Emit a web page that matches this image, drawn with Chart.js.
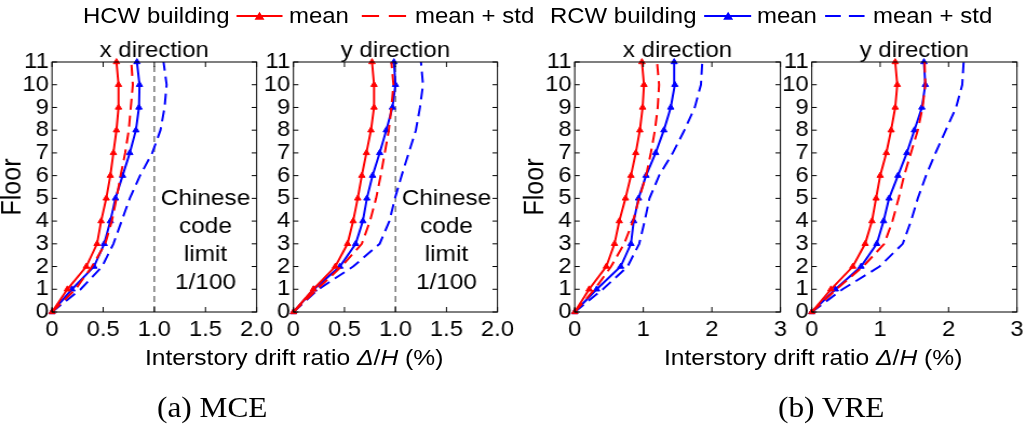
<!DOCTYPE html>
<html>
<head>
<meta charset="utf-8">
<script src="https://cdn.jsdelivr.net/npm/chart.js@4.4.1/dist/chart.umd.min.js"></script>
<style>
  html, body { margin: 0; padding: 0; background: #fff; overflow: hidden; width: 1023px; height: 424px; }
  #fig { position: absolute; left: 0; top: 0; height: 424px; transform-origin: 0 0;
         font-family: "Liberation Sans", Arial, sans-serif; color: #000; }
  #fig canvas { position: absolute; top: 0; }
  .t { position: absolute; white-space: nowrap; }
  .cap { font-family: "Liberation Serif", "Times New Roman", serif; }
  svg { position: absolute; overflow: visible; }
</style>
</head>
<body>
<div id="fig"></div>
<script>
// ── Data ──────────────────────────────────────────────────────────────────────
// floor index 0..11, interstory drift ratio in %
const floors = [0, 1, 2, 3, 4, 5, 6, 7, 8, 9, 10, 11];

// (a) MCE, x direction
const hcwMeanMceX = [0, 0.15, 0.335, 0.44, 0.48, 0.53, 0.57, 0.60, 0.63, 0.65, 0.65, 0.63];
const hcwStdMceX  = [0, 0.23, 0.39, 0.52, 0.585, 0.63, 0.67, 0.715, 0.75, 0.77, 0.79, 0.775];
const rcwMeanMceX = [0, 0.195, 0.41, 0.51, 0.57, 0.62, 0.69, 0.76, 0.82, 0.85, 0.855, 0.83];
const rcwStdMceX  = [0, 0.28, 0.49, 0.60, 0.68, 0.76, 0.86, 0.98, 1.06, 1.10, 1.12, 1.09];

// (a) MCE, y direction
const hcwMeanMceY = [0, 0.195, 0.41, 0.53, 0.585, 0.63, 0.67, 0.715, 0.76, 0.79, 0.79, 0.77];
const hcwStdMceY  = [0, 0.23, 0.47, 0.67, 0.75, 0.81, 0.855, 0.895, 0.935, 0.96, 0.98, 0.96];
const rcwMeanMceY = [0, 0.20, 0.455, 0.61, 0.68, 0.72, 0.775, 0.845, 0.91, 0.97, 1.0, 0.985];
const rcwStdMceY  = [0, 0.245, 0.585, 0.845, 0.94, 0.995, 1.06, 1.13, 1.20, 1.24, 1.27, 1.25];

// (b) VRE, x direction
const hcwMeanVreX = [0, 0.21, 0.46, 0.58, 0.65, 0.74, 0.82, 0.89, 0.95, 0.99, 1.01, 0.98];
const hcwStdVreX  = [0, 0.29, 0.53, 0.72, 0.85, 0.94, 1.04, 1.11, 1.17, 1.21, 1.23, 1.20];
const rcwMeanVreX = [0, 0.32, 0.67, 0.82, 0.86, 0.93, 1.04, 1.18, 1.30, 1.40, 1.46, 1.45];
const rcwStdVreX  = [0, 0.41, 0.77, 0.94, 1.02, 1.09, 1.23, 1.43, 1.60, 1.75, 1.84, 1.86];

// (b) VRE, y direction
const hcwMeanVreY = [0, 0.28, 0.60, 0.78, 0.88, 0.94, 1.0, 1.09, 1.16, 1.22, 1.25, 1.22];
const hcwStdVreY  = [0, 0.36, 0.75, 1.06, 1.18, 1.27, 1.35, 1.45, 1.55, 1.62, 1.66, 1.65];
const rcwMeanVreY = [0, 0.345, 0.72, 0.95, 1.05, 1.13, 1.26, 1.39, 1.50, 1.61, 1.66, 1.64];
const rcwStdVreY  = [0, 0.45, 0.99, 1.33, 1.45, 1.55, 1.67, 1.81, 1.96, 2.11, 2.20, 2.22];

const codeLimit  = 1.0;   // Chinese code limit 1/100
const limitText  = ['Chinese', 'code', 'limit', '1/100'];

// ── Layout ────────────────────────────────────────────────────────────────────
const S         = 1.08;   // the figure is stretched horizontally a little
const CANVAS_H  = 345;
const FONT      = '"Liberation Sans", Arial, sans-serif';
const RED       = '#ff0000';
const BLUE      = '#0000ff';
const TICK_PX   = 22;
const TITLE_PX  = 22.2;
const LEGEND_PX = 22.2;
const AXIS_PX   = 22.8;
const NOTE_PX   = 22.6;

const fig = document.getElementById('fig');
fig.style.width = (1023 / S) + 'px';
fig.style.transform = `scaleX(${S})`;

// ── Helpers ───────────────────────────────────────────────────────────────────
function addText(html, xRef, yCenter, size, cls = '') {
  const el = document.createElement('div');
  el.className = 't ' + cls;
  el.innerHTML = html;
  el.style.left = (xRef / S) + 'px';
  el.style.fontSize = size + 'px';
  el.style.lineHeight = (size * 1.2) + 'px';
  el.style.top = (yCenter - size * 0.6) + 'px';
  fig.appendChild(el);
}

function addSample(x1, x2, yCenter, color, dashed, markX) {
  const w = (x2 - x1) / S;
  const ns = 'http://www.w3.org/2000/svg';
  const svg = document.createElementNS(ns, 'svg');
  svg.setAttribute('width', w);
  svg.setAttribute('height', 12);
  svg.style.left = (x1 / S) + 'px';
  svg.style.top = (yCenter - 6) + 'px';
  const line = document.createElementNS(ns, 'line');
  line.setAttribute('x1', 0); line.setAttribute('x2', w);
  line.setAttribute('y1', 6); line.setAttribute('y2', 6);
  line.setAttribute('stroke', color);
  line.setAttribute('stroke-width', 2);
  if (dashed) line.setAttribute('stroke-dasharray', dashed);
  svg.appendChild(line);
  if (markX) {
    const cx = (markX - x1) / S;
    const tri = document.createElementNS(ns, 'polygon');
    tri.setAttribute('points', `${cx - 4.6},9.8 ${cx + 4.6},9.8 ${cx},1.8`);
    tri.setAttribute('fill', color);
    svg.appendChild(tri);
  }
  fig.appendChild(svg);
}

function series(xs, color, dashed) {
  return {
    data: xs.map((x, i) => ({ x, y: floors[i] })),
    borderColor: color,
    backgroundColor: color,
    borderWidth: 2,
    borderDash: dashed ? [11, 6] : [],
    pointStyle: 'triangle',
    pointRadius: dashed ? 0 : 3.4,
    pointBorderWidth: 1,
    tension: 0,
    clip: 6,
  };
}

// frame, inward ticks and the code-limit note
const framePlugin = {
  id: 'frame',
  afterDraw(chart, args, opts) {
    const { ctx, chartArea: a, scales: { x, y } } = chart;
    ctx.save();
    ctx.strokeStyle = '#000';
    ctx.lineWidth = 1;
    ctx.strokeRect(a.left, a.top, a.right - a.left, a.bottom - a.top);
    const tx = 5 / S, ty = 5;
    ctx.beginPath();
    y.ticks.forEach(t => {
      const py = y.getPixelForValue(t.value);
      ctx.moveTo(a.left, py);  ctx.lineTo(a.left + tx, py);
      ctx.moveTo(a.right, py); ctx.lineTo(a.right - tx, py);
    });
    x.ticks.forEach(t => {
      const px = x.getPixelForValue(t.value);
      ctx.moveTo(px, a.bottom); ctx.lineTo(px, a.bottom - ty);
      ctx.moveTo(px, a.top);    ctx.lineTo(px, a.top + ty);
    });
    ctx.stroke();

    if (opts.limit) {
      ctx.fillStyle = '#000';
      ctx.font = `${NOTE_PX}px ${FONT}`;
      ctx.textAlign = 'center';
      ctx.textBaseline = 'alphabetic';
      const px = x.getPixelForValue(1.5);
      const py = y.getPixelForValue(4.72);
      limitText.forEach((s, i) => ctx.fillText(s, px, py + i * 28));
    }
    ctx.restore();
  },
};

// ── Panels ────────────────────────────────────────────────────────────────────
const panels = [
  { left: 0,   plotL: 52,  plotR: 257,  title: 'x direction', xMax: 2, step: 0.5, floor: true,  limit: true,
    data: [hcwMeanMceX, hcwStdMceX, rcwMeanMceX, rcwStdMceX] },
  { left: 262, plotL: 293, plotR: 498,  title: 'y direction', xMax: 2, step: 0.5, floor: false, limit: true,
    data: [hcwMeanMceY, hcwStdMceY, rcwMeanMceY, rcwStdMceY] },
  { left: 523, plotL: 575, plotR: 781,  title: 'x direction', xMax: 3, step: 1,   floor: true,  limit: false,
    data: [hcwMeanVreX, hcwStdVreX, rcwMeanVreX, rcwStdVreX] },
  { left: 780, plotL: 812, plotR: 1018, title: 'y direction', xMax: 3, step: 1,   floor: false, limit: false,
    data: [hcwMeanVreY, hcwStdVreY, rcwMeanVreY, rcwStdVreY] },
];

panels.forEach(p => {
  const canvas = document.createElement('canvas');
  const w = (p.plotR + 22 - p.left) / S;
  canvas.width = w;
  canvas.height = CANVAS_H;
  canvas.style.left = (p.left / S) + 'px';
  fig.appendChild(canvas);

  const datasets = [
    series(p.data[0], RED, false),
    series(p.data[1], RED, true),
    series(p.data[2], BLUE, false),
    series(p.data[3], BLUE, true),
  ];
  if (p.limit) {
    datasets.push({
      data: [{ x: codeLimit, y: 0 }, { x: codeLimit, y: 11 }],
      borderColor: '#555', borderWidth: 1.2, borderDash: [6, 4], pointRadius: 0,
    });
  }

  const yWidth = (p.plotL - p.left) / S;
  new Chart(canvas, {
    type: 'line',
    data: { datasets },
    plugins: [framePlugin],
    options: {
      responsive: false,
      animation: false,
      events: [],
      layout: { padding: { left: 0, right: 22 / S, top: 0, bottom: 0 } },
      plugins: {
        legend: { display: false },
        tooltip: { enabled: false },
        title: {
          display: true, text: p.title, fullSize: false, color: '#000',
          font: { family: FONT, size: TITLE_PX, weight: 'normal', lineHeight: 1 },
          padding: { top: 62 - TITLE_PX, bottom: 0 },
        },
        frame: { limit: p.limit },
      },
      scales: {
        x: {
          type: 'linear', min: 0, max: p.xMax,
          grid: { display: false, drawTicks: false },
          border: { display: false },
          ticks: {
            stepSize: p.step, autoSkip: false, maxRotation: 0, padding: 4.8, color: '#000',
            font: { family: FONT, size: TICK_PX, lineHeight: 1.2 },
            callback: v => (p.step < 1 && v !== 0 ? v.toFixed(1) : String(v)),
          },
          afterFit: s => { s.height = CANVAS_H - 312; },
        },
        y: {
          type: 'linear', min: 0, max: 11,
          grid: { display: false, drawTicks: false },
          border: { display: false },
          ticks: { stepSize: 1, autoSkip: false, padding: 3, color: '#000',
                   font: { family: FONT, size: TICK_PX, lineHeight: 1 } },
          title: {
            display: p.floor, text: 'Floor', color: '#000', padding: 0,
            font: { family: FONT, size: 25, lineHeight: 1 },
          },
          afterFit: s => { s.width = yWidth; },
        },
      },
    },
  });
});

// ── Legend, axis titles, captions ─────────────────────────────────────────────
addText('HCW building', 83, 16, LEGEND_PX);
addSample(237, 283, 16, RED, null, 260);
addText('mean', 289, 16, LEGEND_PX);
addSample(362, 408, 16, RED, '16 9');
addText('mean + std', 415, 16, LEGEND_PX);

addText('RCW building', 550, 16, LEGEND_PX);
addSample(704, 751, 16, BLUE, null, 728);
addText('mean', 757, 16, LEGEND_PX);
addSample(825, 867, 16, BLUE, '14.5 7.5');
addText('mean + std', 873, 16, LEGEND_PX);

const axisTitle = 'Interstory drift ratio <i>&Delta;</i>/<i>H</i> (%)';
addText(axisTitle, 145, 358, AXIS_PX);
addText(axisTitle, 664, 358, AXIS_PX);

addText('(a) MCE', 157, 407, 29, 'cap');
addText('(b) VRE', 778, 407, 29, 'cap');
</script>
</body>
</html>
